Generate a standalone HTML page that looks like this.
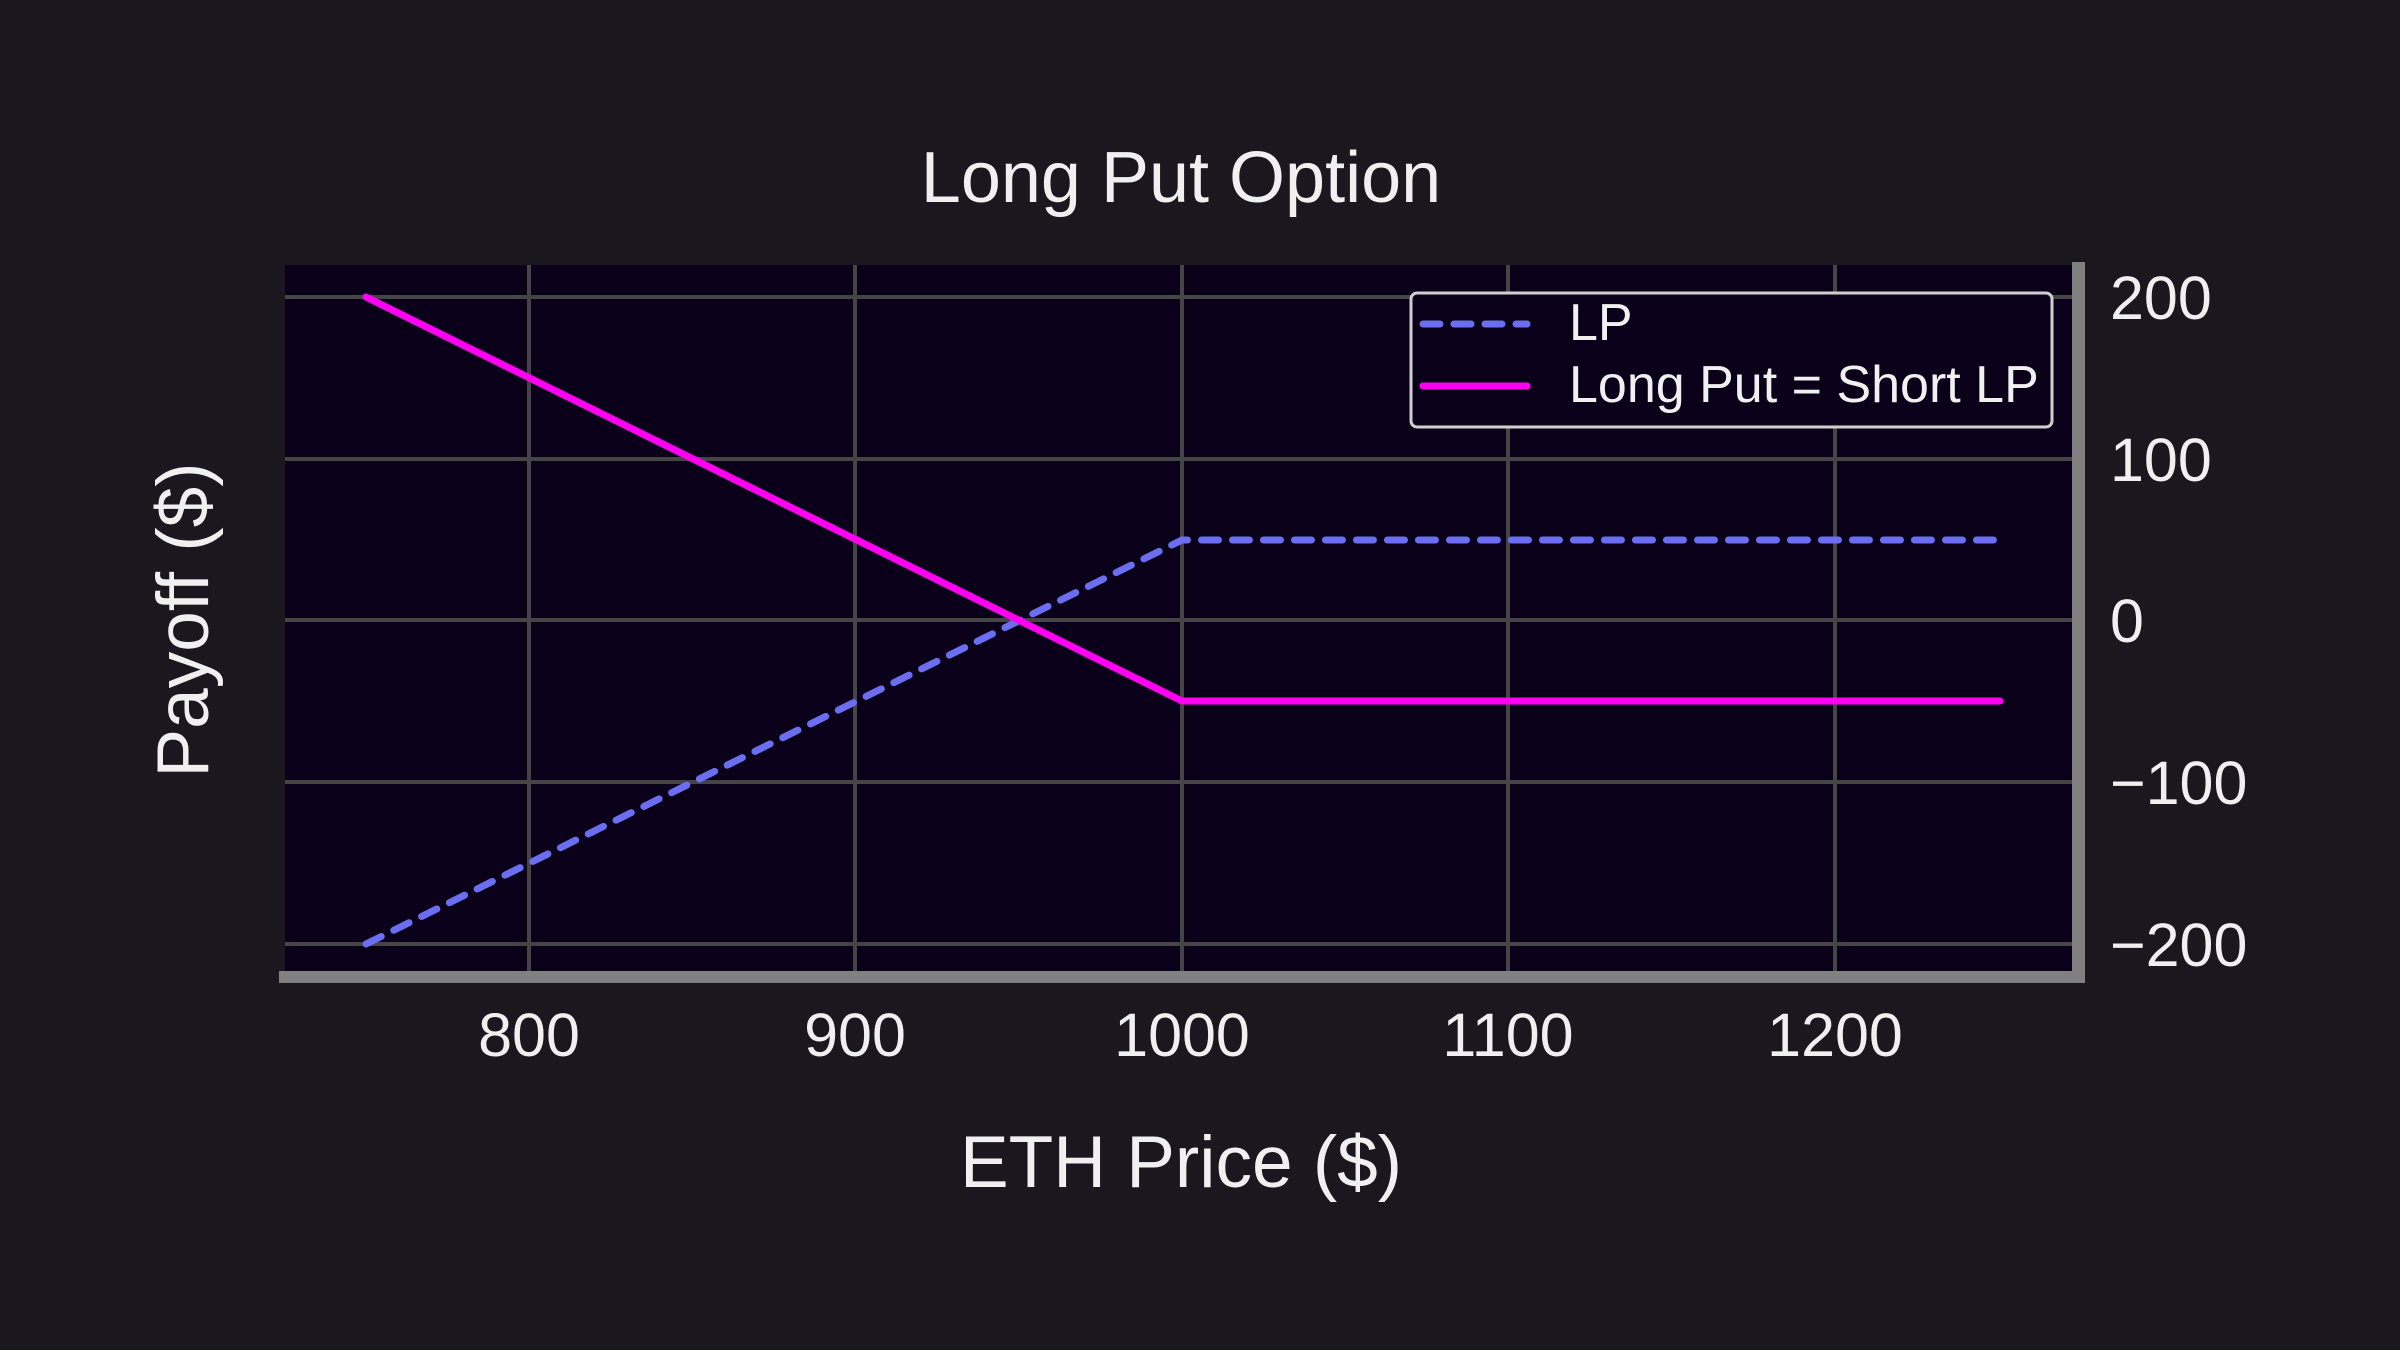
<!DOCTYPE html>
<html><head><meta charset="utf-8"><style>
html,body{margin:0;padding:0;background:#1a181e;}
svg{display:block;}
text{font-family:"Liberation Sans",sans-serif;fill:#f0f0f0;}
</style></head><body>
<svg width="2400" height="1350" viewBox="0 0 2400 1350" xmlns="http://www.w3.org/2000/svg">
<rect width="2400" height="1350" fill="#1a181e"/>
<rect x="285" y="265" width="1787" height="706" fill="#0a0019"/>
<g stroke="#454545" stroke-width="4">
<line x1="529" y1="265" x2="529" y2="971"/>
<line x1="855" y1="265" x2="855" y2="971"/>
<line x1="1182" y1="265" x2="1182" y2="971"/>
<line x1="1508" y1="265" x2="1508" y2="971"/>
<line x1="1835" y1="265" x2="1835" y2="971"/>
<line x1="285" y1="297" x2="2072" y2="297"/>
<line x1="285" y1="459" x2="2072" y2="459"/>
<line x1="285" y1="620" x2="2072" y2="620"/>
<line x1="285" y1="782" x2="2072" y2="782"/>
<line x1="285" y1="944" x2="2072" y2="944"/>
</g>
<polyline points="366,944 1182,540 2000,540" fill="none" stroke="#6b6ef0" stroke-width="7" stroke-dasharray="17 14" stroke-linecap="round"/>
<polyline points="366,297 1182,701 2000,701" fill="none" stroke="#ff00f0" stroke-width="7" stroke-linecap="round"/>
<rect x="279" y="971" width="1806" height="12" fill="#808080"/>
<rect x="2072" y="262" width="13" height="721" fill="#808080"/>
<rect x="1411" y="293" width="641" height="134" rx="6" fill="#0a0019" stroke="#cfcfcf" stroke-width="3"/>
<line x1="1423" y1="324" x2="1527" y2="324" stroke="#6b6ef0" stroke-width="7" stroke-dasharray="17 14" stroke-linecap="round"/>
<line x1="1423" y1="386" x2="1527" y2="386" stroke="#ff00f0" stroke-width="7" stroke-linecap="round"/>
<text x="1569" y="340" font-size="52">LP</text>
<text x="1569" y="402" font-size="52">Long Put = Short LP</text>
<g font-size="61" text-anchor="middle">
<text x="529" y="1056">800</text>
<text x="855" y="1056">900</text>
<text x="1182" y="1056">1000</text>
<text x="1508" y="1056">1100</text>
<text x="1835" y="1056">1200</text>
</g>
<g font-size="61">
<text x="2110" y="319">200</text>
<text x="2110" y="481">100</text>
<text x="2110" y="642">0</text>
<text x="2110" y="804">−100</text>
<text x="2110" y="966">−200</text>
</g>
<text x="1181" y="202" font-size="72" text-anchor="middle">Long Put Option</text>
<text x="1181" y="1187" font-size="73" text-anchor="middle">ETH Price ($)</text>
<text transform="translate(208,620) rotate(-90)" font-size="73" text-anchor="middle">Payoff ($)</text>
</svg>
</body></html>
